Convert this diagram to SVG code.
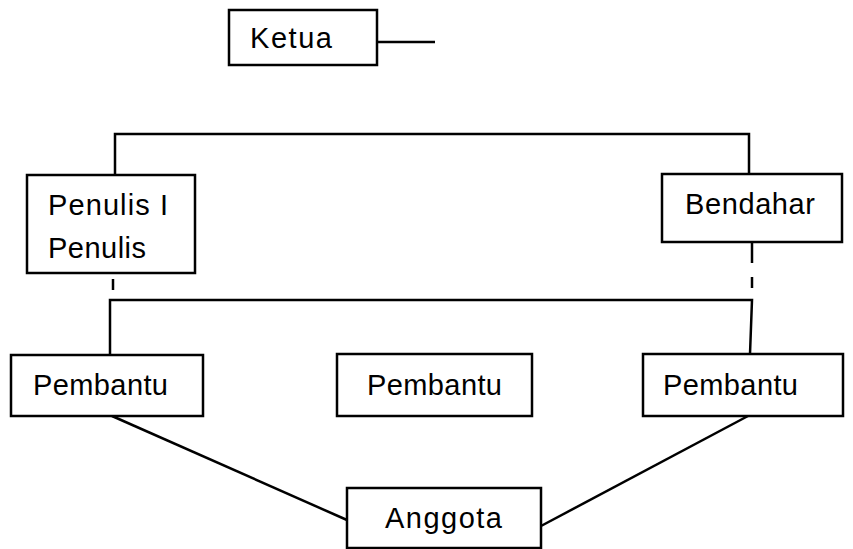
<svg xmlns="http://www.w3.org/2000/svg" width="853" height="549" viewBox="0 0 853 549">
<style>
.box{fill:#fff;stroke:#000;stroke-width:2.5}
.ln{fill:none;stroke:#000;stroke-width:2.5}
.t{font-family:"Liberation Sans",Arial,sans-serif;font-size:29px;fill:#000}
</style>
<rect width="853" height="549" fill="#fff"/>
<g id="connectors">
<line class="ln" x1="377" y1="42" x2="435" y2="42"/>
<polyline class="ln" points="115,175 115,134 749,134 749,174"/>
<line class="ln" x1="113" y1="279" x2="113" y2="290"/>
<line class="ln" x1="752" y1="242" x2="752" y2="263"/>
<line class="ln" x1="752" y1="277" x2="752" y2="288"/>
<polyline class="ln" points="110,355 110,300 752,300 750,354"/>
<line class="ln" x1="112" y1="416" x2="347" y2="520"/>
<line class="ln" x1="748" y1="416" x2="541" y2="526"/>
</g>
<g id="ketua">
<rect class="box" x="229" y="10" width="148" height="55"/>
<text class="t" x="250" y="48" font-size="26" textLength="82" lengthAdjust="spacing">Ketua</text>
</g>
<g id="penulis">
<rect class="box" x="27" y="175" width="168" height="98"/>
<text class="t" x="48" y="215" textLength="120" lengthAdjust="spacing">Penulis I</text>
<text class="t" x="48" y="258" textLength="98" lengthAdjust="spacing">Penulis</text>
</g>
<g id="bendahar">
<rect class="box" x="662" y="174" width="180" height="68"/>
<text class="t" x="685" y="214" textLength="130" lengthAdjust="spacing">Bendahar</text>
</g>
<g id="pembantu1">
<rect class="box" x="11" y="355" width="192" height="61"/>
<text class="t" x="33" y="395" textLength="135" lengthAdjust="spacing">Pembantu</text>
</g>
<g id="pembantu2">
<rect class="box" x="337" y="354" width="195" height="62"/>
<text class="t" x="367" y="395" textLength="135" lengthAdjust="spacing">Pembantu</text>
</g>
<g id="pembantu3">
<rect class="box" x="643" y="354" width="200" height="62"/>
<text class="t" x="663" y="395" textLength="135" lengthAdjust="spacing">Pembantu</text>
</g>
<g id="anggota">
<rect class="box" x="347" y="488" width="194" height="60"/>
<text class="t" x="385" y="528" textLength="117" lengthAdjust="spacing">Anggota</text>
</g>
</svg>
